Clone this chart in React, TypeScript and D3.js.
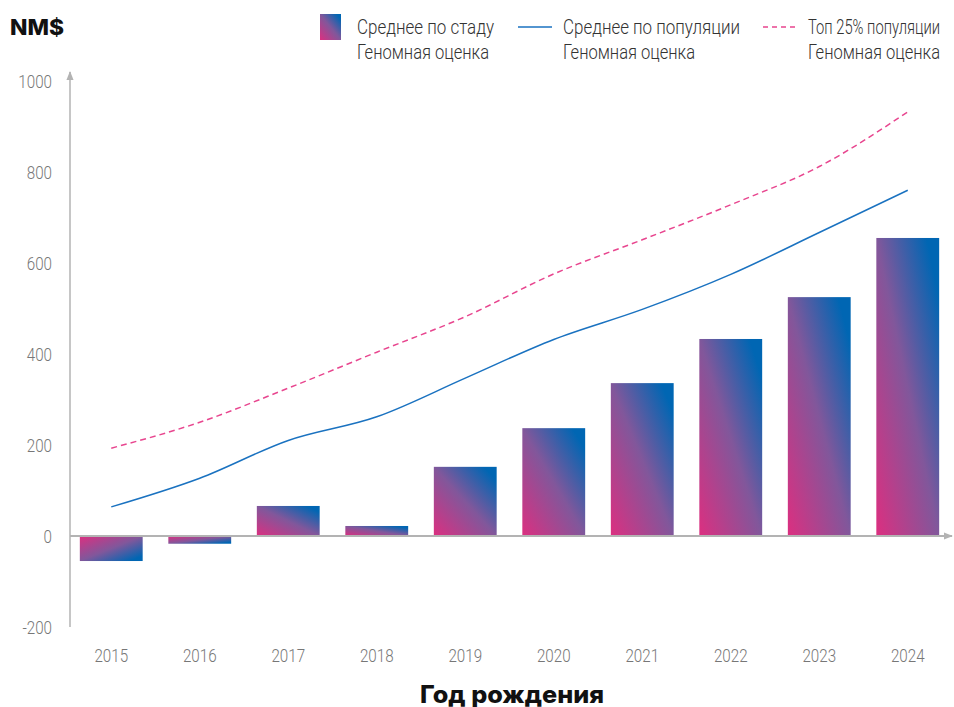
import * as d3 from 'd3';
import React from 'react';

const years = ['2015', '2016', '2017', '2018', '2019', '2020', '2021', '2022', '2023', '2024'];
const herdMean = [-55, -17, 66, 22, 152, 237, 336, 433, 525, 655];
const popMean = [64, 127, 210, 262, 347, 432, 498, 575, 667, 760];
const top25 = [193, 250, 325, 404, 482, 576, 651, 728, 812, 932];
const yTicks = [-200, 0, 200, 400, 600, 800, 1000];

const legendItems = [
  { kind: 'bar', x: 320, line1: 'Среднее по стаду', w1: 137, line2: 'Геномная оценка', w2: 132 },
  { kind: 'line', x: 518, line1: 'Среднее по популяции', w1: 177, line2: 'Геномная оценка', w2: 132 },
  { kind: 'dash', x: 763, line1: 'Топ 25% популяции', w1: 132, line2: 'Геномная оценка', w2: 132 },
];

const width = 954;
const height = 707;
const axisX = 70;
const thin = 'Roboto, "Noto Sans", sans-serif';
const heavy = 'Inter, "Noto Sans", sans-serif';
const axisColor = '#b3b3b3';
const blue = '#1a72c0';
const pink = '#e8468f';

// condensed look: squeeze a light sans horizontally
const Narrow = ({ x, y, anchor = 'start', size = 18, fill = '#777', children }: any) => (
  <text
    transform={`translate(${x},${y}) scale(0.8,1)`}
    textAnchor={anchor}
    fontFamily={thin}
    fontWeight={300}
    fontSize={size}
    fill={fill}
  >
    {children}
  </text>
);

const App = () => {
  const x = d3.scaleBand<string>().domain(years).range([67, 952]).paddingInner(0.29).paddingOuter(0.145);
  const y = d3.scaleLinear([-200, 1000], [627, 81]);

  const cx = (i: number) => (x(years[i]) as number) + x.bandwidth() / 2;
  const line = d3
    .line<number>()
    .x((d, i) => cx(i))
    .y((d) => y(d))
    .curve(d3.curveMonotoneX);

  return (
    <svg width={width} height={height} style={{ position: 'absolute', left: 0, top: 0 }}>
      <defs>
        <linearGradient id="gUp" x1="0" y1="1" x2="1" y2="0">
          <stop offset="0" stopColor="#dc2f80" />
          <stop offset="0.5" stopColor="#81579b" />
          <stop offset="0.9" stopColor="#0066b3" />
        </linearGradient>
        <linearGradient id="gDown" x1="0" y1="0" x2="1" y2="1">
          <stop offset="0" stopColor="#dc2f80" />
          <stop offset="0.5" stopColor="#81579b" />
          <stop offset="0.9" stopColor="#0066b3" />
        </linearGradient>
        <marker id="arrow" viewBox="0 0 10 10" refX="9" refY="5" markerWidth="9" markerHeight="9" orient="auto" markerUnits="userSpaceOnUse">
          <path d="M0,1 L10,5 L0,9 Z" fill={axisColor} />
        </marker>
      </defs>

      {/* title */}
      <text x={10} y={35} fontFamily={heavy} fontWeight={800} fontSize={22} fill="#111" textLength={54} lengthAdjust="spacingAndGlyphs">
        NM$
      </text>

      {/* legend */}
      {legendItems.map((item) => {
        const tx = item.x + (item.kind === 'bar' ? 37 : 45);
        return (
          <g key={item.line1}>
            {item.kind === 'bar' && <rect x={item.x} y={14} width={21} height={26} fill="url(#gUp)" />}
            {item.kind === 'line' && <line x1={item.x} x2={item.x + 34} y1={27} y2={27} stroke={blue} strokeWidth={1.5} />}
            {item.kind === 'dash' && (
              <line x1={item.x} x2={item.x + 34} y1={27} y2={27} stroke={pink} strokeWidth={1.5} strokeDasharray="5 4" />
            )}
            <text x={tx} y={34} fontFamily={thin} fontWeight={300} fontSize={20} fill="#333" textLength={item.w1} lengthAdjust="spacingAndGlyphs">
              {item.line1}
            </text>
            <text x={tx} y={59} fontFamily={thin} fontWeight={300} fontSize={20} fill="#333" textLength={item.w2} lengthAdjust="spacingAndGlyphs">
              {item.line2}
            </text>
          </g>
        );
      })}

      {/* y tick labels */}
      {yTicks.map((t) => (
        <Narrow key={t} x={52} y={y(t) + 7} anchor="end" size={19}>
          {t}
        </Narrow>
      ))}

      {/* bars */}
      {herdMean.map((v, i) => (
        <rect
          key={years[i]}
          x={x(years[i])}
          y={v >= 0 ? y(v) : y(0)}
          width={x.bandwidth()}
          height={Math.abs(y(v) - y(0))}
          fill={v >= 0 ? 'url(#gUp)' : 'url(#gDown)'}
        />
      ))}

      {/* axes */}
      <line x1={axisX} x2={axisX} y1={y(-200)} y2={72} stroke={axisColor} strokeWidth={1.5} markerEnd="url(#arrow)" />
      <line x1={axisX} x2={952} y1={y(0)} y2={y(0)} stroke={axisColor} strokeWidth={2} markerEnd="url(#arrow)" />

      {/* lines */}
      <path d={line(popMean) ?? ''} fill="none" stroke={blue} strokeWidth={1.5} />
      <path d={line(top25) ?? ''} fill="none" stroke={pink} strokeWidth={1.5} strokeDasharray="6 4" />

      {/* x tick labels */}
      {years.map((yr, i) => (
        <Narrow key={yr} x={cx(i)} y={662} anchor="middle" size={19}>
          {yr}
        </Narrow>
      ))}

      <text x={420} y={703} fontFamily={heavy} fontWeight={800} fontSize={24} fill="#111" textLength={184} lengthAdjust="spacingAndGlyphs">
        Год рождения
      </text>
    </svg>
  );
};

export default App;
